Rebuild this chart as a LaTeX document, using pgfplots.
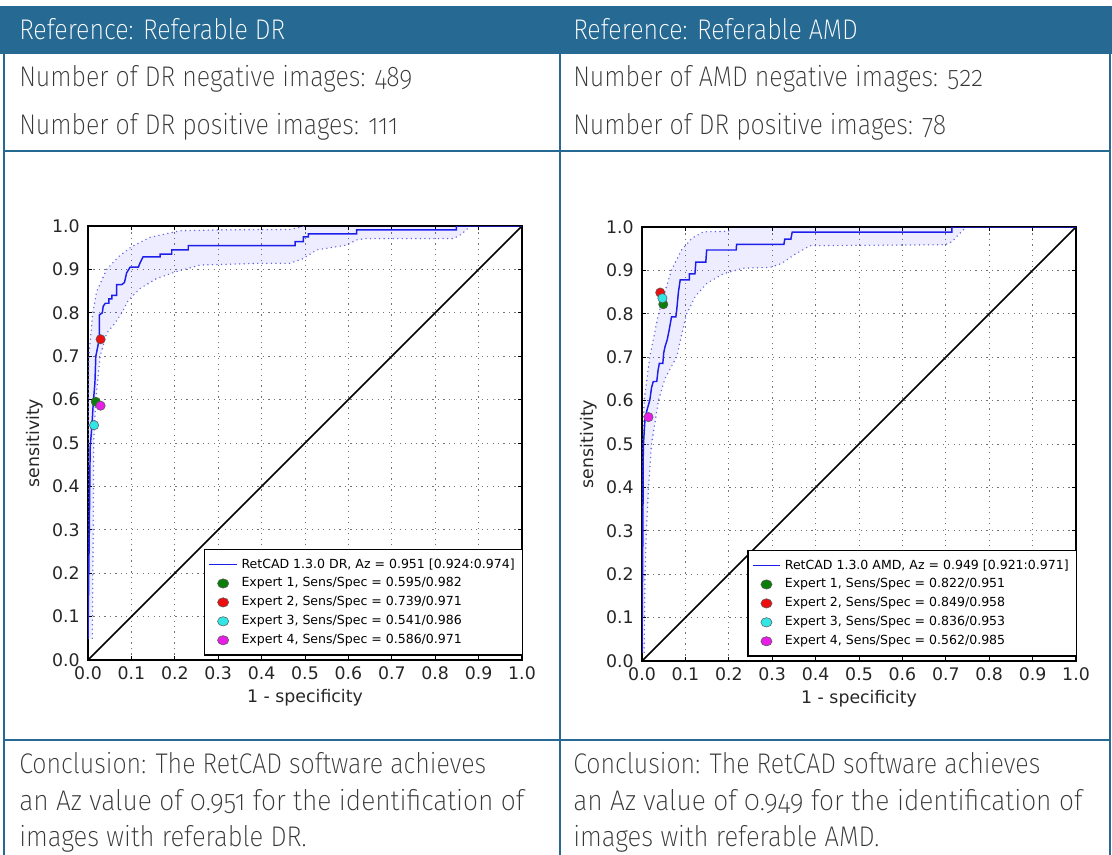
\documentclass[border=0pt]{standalone}
\usepackage{fontspec}
\usepackage{graphicx}
\usepackage{pgfplots}
\pgfplotsset{compat=1.18}
\usepgfplotslibrary{fillbetween}
\IfFontExistsTF{Fira Sans ExtraLight}
  {\newfontfamily\bodyfont{Fira Sans ExtraLight}[Numbers=OldStyle,FakeStretch=0.88]}
  {\newfontfamily\bodyfont{Fira Sans Light}[Numbers=OldStyle,FakeStretch=0.88]}
\newfontfamily\dejavu{DejaVu Sans}
\definecolor{hdr}{RGB}{38,106,147}
\definecolor{txt}{RGB}{55,55,55}
\definecolor{rocblue}{RGB}{30,30,235}
\definecolor{ciblue}{RGB}{100,100,230}
\definecolor{eg}{RGB}{10,125,10}
\definecolor{er}{RGB}{235,15,15}
\definecolor{ec}{RGB}{50,230,230}
\definecolor{em}{RGB}{230,30,230}

\pgfplotstableread{
x y
0.000 0.050
0.003 0.300
0.005 0.490
0.009 0.540
0.012 0.590
0.016 0.640
0.018 0.700
0.022 0.720
0.026 0.740
0.026 0.795
0.033 0.800
0.035 0.815
0.040 0.822
0.048 0.822
0.048 0.832
0.055 0.832
0.055 0.840
0.066 0.840
0.066 0.865
0.078 0.865
0.084 0.870
0.089 0.892
0.097 0.905
0.116 0.905
0.120 0.915
0.127 0.929
0.166 0.929
0.166 0.935
0.193 0.935
0.193 0.945
0.231 0.945
0.231 0.955
0.477 0.955
0.477 0.964
0.496 0.964
0.496 0.975
0.508 0.975
0.508 0.982
0.619 0.982
0.619 0.991
0.849 0.991
0.849 1.000
1.000 1.000
}\rocDR

\pgfplotstableread{
x y
0.000 0.050
0.000 0.300
0.001 0.600
0.002 0.700
0.011 0.800
0.020 0.849
0.043 0.900
0.070 0.929
0.100 0.952
0.143 0.974
0.212 0.989
0.300 0.991
0.465 0.992
0.500 1.000
}\upDR

\pgfplotstableread{
x y
0.010 0.050
0.012 0.300
0.013 0.500
0.018 0.600
0.028 0.700
0.043 0.753
0.062 0.776
0.078 0.800
0.093 0.829
0.120 0.856
0.158 0.879
0.204 0.895
0.258 0.910
0.396 0.914
0.465 0.914
0.496 0.925
0.527 0.945
0.596 0.956
0.619 0.968
0.640 0.971
0.842 0.971
0.857 0.979
0.872 0.991
0.878 1.000
}\loDR

\pgfplotstableread{
x y
0.000 0.020
0.002 0.300
0.003 0.494
0.007 0.559
0.012 0.580
0.018 0.601
0.022 0.630
0.026 0.644
0.034 0.644
0.037 0.670
0.040 0.686
0.048 0.686
0.050 0.710
0.053 0.724
0.058 0.740
0.063 0.765
0.068 0.793
0.078 0.793
0.080 0.809
0.084 0.851
0.088 0.878
0.109 0.878
0.109 0.892
0.122 0.892
0.124 0.919
0.147 0.919
0.149 0.947
0.217 0.947
0.218 0.960
0.327 0.960
0.329 0.972
0.343 0.972
0.346 0.988
0.714 0.988
0.714 1.000
1.000 1.000
}\rocAMD

\pgfplotstableread{
x y
0.000 0.020
0.000 0.300
0.002 0.500
0.005 0.600
0.018 0.701
0.038 0.800
0.053 0.851
0.068 0.901
0.091 0.947
0.115 0.974
0.141 0.989
0.199 0.990
0.205 1.000
}\upAMD

\pgfplotstableread{
x y
0.005 0.020
0.007 0.200
0.010 0.300
0.015 0.400
0.022 0.500
0.030 0.550
0.038 0.601
0.053 0.651
0.080 0.701
0.091 0.751
0.103 0.800
0.122 0.839
0.149 0.870
0.187 0.892
0.233 0.905
0.295 0.907
0.322 0.916
0.349 0.935
0.387 0.957
0.698 0.959
0.714 0.966
0.729 0.982
0.744 0.997
0.748 1.000
}\loAMD

\pgfplotsset{
  rocline/.style={color=rocblue, line width=1.1pt},
  ciline/.style={color=ciblue, line width=1.2pt, line cap=round, dash pattern=on 0pt off 3.4pt},
  expert/.style={only marks, mark=*, mark size=3.5pt, mark options={fill=#1, draw=black!65, line width=0.4pt}},
  rocstyle/.style={
  scale only axis, width=325.5pt, height=325.5pt,
  xmin=0, xmax=1, ymin=0, ymax=1,
  xtick={0,0.1,0.2,0.3,0.4,0.5,0.6,0.7,0.8,0.9,1},
  ytick={0,0.1,0.2,0.3,0.4,0.5,0.6,0.7,0.8,0.9,1},
  /pgf/number format/.cd, fixed, fixed zerofill, precision=1, assume math mode=true, /pgfplots/.cd,
  tick label style={font=\dejavu\fontsize{13}{15}\selectfont, text=black!85, inner sep=0pt},
  yticklabel style={xshift=-6pt},
  xticklabel style={yshift=-5pt},
  label style={font=\dejavu\fontsize{13}{15}\selectfont, text=black!85},
  xlabel={1 - specificity}, ylabel={sensitivity},
  xlabel style={at={(axis description cs:0.5,-0.087)}, anchor=center},
  ylabel style={at={(axis description cs:-0.122,0.5)}, anchor=center},
  grid=major, major grid style={black!55, line width=0.55pt, dash pattern=on 0.9pt off 3.2pt},
  tick align=inside, major tick length=3pt, tick style={black, line width=0.6pt},
  axis line style={black, line width=0.9pt},
  legend cell align=left,
  legend image post style={xscale=1.2},
  legend style={font=\dejavu\fontsize{9.4}{11}\selectfont, at={(1.003,0.01)}, anchor=south east,
    draw=black, line width=0.9pt, fill=white, inner xsep=3pt, inner ysep=5pt, row sep=2pt,
    nodes={inner xsep=3pt, inner ysep=1.5pt, text height=7.2pt, text depth=2pt}},
}}

\begin{document}
\begin{tikzpicture}
\begin{scope}[x=0.75pt,y=-0.75pt]
  \path[use as bounding box] (0,0) rectangle (1112,855);
  \fill[hdr] (0,6) rectangle (1112,54);
  \draw[hdr, line width=1.7pt] (4,54) -- (4,855);
  \draw[hdr, line width=1.7pt] (560,54) -- (560,855);
  \draw[hdr, line width=1.7pt] (1110,54) -- (1110,855);
  \draw[hdr, line width=1.7pt] (4,151) -- (1110,151);
  \draw[hdr, line width=1.7pt] (4,740) -- (1110,740);
  \coordinate (A1) at (88,660);
  \coordinate (A2) at (642,661);
  \begin{scope}[every node/.style={anchor=base west, inner sep=0pt, font=\bodyfont\fontsize{21.3}{25}\selectfont, text=txt}]
    \node[text=white] at (19,40) {Reference: Referable DR};
    \node[text=white] at (573,40) {Reference: Referable AMD};
    \node at (19,87) {Number of DR negative images: 489};
    \node at (19,135) {Number of DR positive images: 111};
    \node at (573,87) {Number of AMD negative images: 522};
    \node at (573,135) {Number of DR positive images: 78};
    \node at (19,773) {Conclusion: The RetCAD software achieves};
    \node at (19,810) {\scalebox{1.055}[1]{an Az value of 0.951 for the identification of}};
    \node at (19,846) {\scalebox{1.025}[1]{images with referable DR.}};
    \node at (573,773) {Conclusion: The RetCAD software achieves};
    \node at (573,810) {\scalebox{1.055}[1]{an Az value of 0.949 for the identification of}};
    \node at (573,846) {\scalebox{1.025}[1]{images with referable AMD.}};
  \end{scope}
\end{scope}

\begin{axis}[rocstyle, at={(A1)}, anchor=south west]
  \addlegendimage{rocblue, line width=1.1pt}
  \addlegendentry{RetCAD 1.3.0 DR, Az = 0.951 [0.924:0.974]}
  \addplot[name path=u1, ciline, forget plot] table {\upDR};
  \addplot[name path=l1, ciline, forget plot] table {\loDR};
  \addplot[fill=blue, fill opacity=0.07, draw=none, forget plot] fill between[of=u1 and l1];
  \addplot[black, line width=1.1pt, forget plot] coordinates {(0,0) (1,1)};
  \addplot[rocline, forget plot] table {\rocDR};
  \addplot[expert=eg] coordinates {(0.018,0.595)};
  \addlegendentry{Expert 1, Sens/Spec = 0.595/0.982}
  \addplot[expert=er] coordinates {(0.029,0.739)};
  \addlegendentry{Expert 2, Sens/Spec = 0.739/0.971}
  \addplot[expert=ec] coordinates {(0.014,0.541)};
  \addlegendentry{Expert 3, Sens/Spec = 0.541/0.986}
  \addplot[expert=em] coordinates {(0.029,0.586)};
  \addlegendentry{Expert 4, Sens/Spec = 0.586/0.971}
\end{axis}

\begin{axis}[rocstyle, at={(A2)}, anchor=south west]
  \addlegendimage{rocblue, line width=1.1pt}
  \addlegendentry{RetCAD 1.3.0 AMD, Az = 0.949 [0.921:0.971]}
  \addplot[name path=u2, ciline, forget plot] table {\upAMD};
  \addplot[name path=l2, ciline, forget plot] table {\loAMD};
  \addplot[fill=blue, fill opacity=0.07, draw=none, forget plot] fill between[of=u2 and l2];
  \addplot[black, line width=1.1pt, forget plot] coordinates {(0,0) (1,1)};
  \addplot[rocline, forget plot] table {\rocAMD};
  \addplot[expert=eg] coordinates {(0.049,0.822)};
  \addlegendentry{Expert 1, Sens/Spec = 0.822/0.951}
  \addplot[expert=er] coordinates {(0.042,0.849)};
  \addlegendentry{Expert 2, Sens/Spec = 0.849/0.958}
  \addplot[expert=ec] coordinates {(0.047,0.836)};
  \addlegendentry{Expert 3, Sens/Spec = 0.836/0.953}
  \addplot[expert=em] coordinates {(0.015,0.562)};
  \addlegendentry{Expert 4, Sens/Spec = 0.562/0.985}
\end{axis}
\end{tikzpicture}
\end{document}
